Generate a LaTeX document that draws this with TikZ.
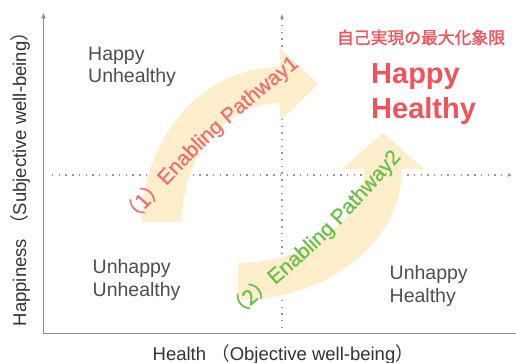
\documentclass[tikz,border=0pt]{standalone}
\usepackage{fontspec}
\setmainfont{Liberation Sans}
\newfontfamily\cjk{Noto Sans CJK JP}
\newfontfamily\cjkm{Noto Sans CJK JP}[FakeBold=1.4]
\newfontfamily\cjkp{Noto Sans CJK JP}[FakeBold=0.6]
\newfontfamily\pwsans{Liberation Sans}[FakeBold=0.6]
\usetikzlibrary{arrows.meta,decorations.text}
\definecolor{bandc}{RGB}{254,238,204}
\definecolor{hred}{RGB}{240,84,90}
\definecolor{pwred}{RGB}{238,112,116}
\definecolor{pwgreen}{RGB}{104,192,72}
\definecolor{qgray}{RGB}{78,78,78}
\definecolor{axgray}{RGB}{140,140,140}
\definecolor{dotgray}{RGB}{150,150,150}
\definecolor{labgray}{RGB}{51,51,51}
\begin{document}
\begin{tikzpicture}[x=1pt,y=-1pt,
  axisline/.style={draw=axgray,line width=1.3pt},
  dotline/.style={draw=dotgray,line width=1.4pt,dash pattern=on 1.4pt off 5.3pt},
  band/.style={fill=bandc},
  quad/.style={text=qgray,font=\fontsize{19.5}{22}\selectfont,inner sep=0pt,anchor=base west},
  hh/.style={text=hred,font=\fontsize{29}{34}\selectfont\bfseries,inner sep=0pt,anchor=base west},
  axlab/.style={text=labgray,font=\fontsize{18.5}{22}\selectfont,inner sep=0pt,anchor=base west},
]
\useasboundingbox (0,0) rectangle (516,363);
\fill[white] (0,0) rectangle (516,363);
% dotted quadrant lines
\coordinate (hl) at (52,175);
\coordinate (hr) at (512,175);
\coordinate (vb) at (282,328);
\coordinate (vt) at (282,14);
\draw[dotline,-{Latex[length=4pt,width=4pt]}] (hl) -- (hr);
\draw[dotline,-{Latex[length=4pt,width=4pt]}] (vb) -- (vt);
% axes
\coordinate (O) at (43.5,333.5);
\coordinate (ytop) at (43.5,12.5);
\coordinate (xend) at (517,333.5);
\draw[axisline,-{Latex[length=6pt,width=5pt]}] (O) -- (ytop);
\draw[axisline] (O) -- (xend);
% bands
\fill[band] (142,222) .. controls (142,136.4) and (203.8,67) .. (280,67) -- (280,48) -- (318,84.5) -- (280,121) -- (280,103) .. controls (225.9,103) and (182,156.3) .. (182,222) -- cycle;
\fill[band] (238,300) .. controls (328.6,300) and (402,241.4) .. (402,169) -- (424,169) -- (383,133) -- (342,169) -- (364,169) .. controls (364,220.9) and (307.6,263) .. (238,263) -- cycle;
% path texts
\path[decorate,decoration={text along path,text align=center,text color=pwred,
  text={|\fontsize{21}{25}\selectfont\cjkp|（1）|\fontsize{21}{25}\selectfont\pwsans|Enabling Pathway1}}]
  (121,236) .. controls (208.5,139.3) .. (310,57);
\path[decorate,decoration={text along path,text align=center,text color=pwgreen,
  text={|\fontsize{21}{25}\selectfont\cjkp|（2）|\fontsize{21}{25}\selectfont\pwsans|Enabling Pathway2}}]
  (223,329) .. controls (325.5,243) .. (411,147);
% labels
\node[quad] (hu1) at (88,61) {Happy};
\node[quad] (hu2) at (88,82.5) {Unhealthy};
\node[quad] (uu1) at (92.5,273.5) {Unhappy};
\node[quad] (uu2) at (92.5,296.5) {Unhealthy};
\node[quad] (uh1) at (389.5,279) {Unhappy};
\node[quad] (uh2) at (389.5,302) {Healthy};
\node[hh] (hh1) at (371,83.5) {Happy};
\node[hh] (hh2) at (371,118.5) {Healthy};
\node[text=hred,font=\fontsize{16.8}{20}\selectfont\cjkm,inner sep=0pt,anchor=base] (jp) at (421,43.8) {自己実現の最大化象限};
\node[axlab,rotate=90] (ylab) at (26,326.5) {Happiness {\cjk （}Subjective well-being{\cjk ）}};
\node[axlab] (xlab) at (152.5,360.5) {Health {\cjk （}Objective well-being{\cjk ）}};
\end{tikzpicture}
\end{document}
